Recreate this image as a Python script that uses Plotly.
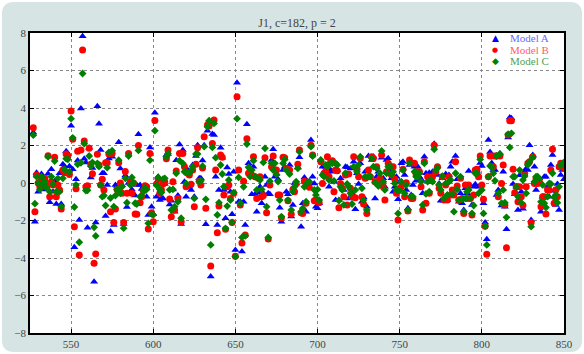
import plotly.graph_objects as go

x_vals = list(range(527, 851))

model_a = [
    2.7, -2.06, 0.55,
    -0.46, 0.35, 0.48, -0.35, 0.16, -0.1, 0.5, -1.03, 0.73, -0.46,
    0.1, -1.12, -0.37, 0.52, -1.12, 1.0, 0.9, 1.7, 1.58, 0.9,
    3.05, 0.73, -3.43, 0.2, 1.2, -1.97, 3.98, 7.83, 1.3, 1.1,
    -2.38, 1.88, 0.3, 0.8, -5.26, -2.1, 4.1, 3.16, 1.76, 0.52,
    0.52, -1.76, -0.1, 1.31, -2.58, 1.4, -2.24, -0.1, -0.16, 2.18,
    0.78, -0.1, -2.18, 0.4, -1.28, 0.0, 0.07, -0.34, -0.02, -0.67,
    -0.1, 2.6, -0.1, -0.32, -0.2, -0.2, -0.73, -1.7, 1.9, -1.26,
    -1.65, 3.75, -0.73, 0.34, -0.91, -0.82, -0.82, -0.05, 1.5, 1.55,
    -1.14, -0.94, -0.34, -1.53, 1.22, -0.67, 2.06, -2.19, 1.76, 0.07,
    -0.73, 0.69, -0.2, -0.37, 0.96, -0.73, 1.44, 2.02, 0.25, 0.25,
    1.2, 2.02, -2.2, 2.79, 3.32, -4.99, 2.61, 2.56, 0.34, -2.24,
    -0.37, 1.88, 1.35, -0.37, -1.88, 0.83, 0.48, -0.46, -1.67, 0.6,
    -3.57, 5.35, -1.0, -1.0, -3.65, -1.0, -2.24, 3.14, 1.05, 0.84,
    -0.6, 0.87, -0.6, -1.53, -0.52, -0.2, -1.08, -0.55, 0.34, -0.1,
    -0.55, -0.6, 1.23, 1.8, 0.34, 0.48, 0.2, -1.32, -2.06, 0.69,
    0.87, -0.46, -0.6, 0.96, -1.79, -1.17, 0.0, -0.02, 0.83, 1.37,
    -2.33, -1.08, 0.3, -1.53, 0.02, 0.07, 2.29, 0.34, -0.02, -1.26,
    -1.35, -1.08, 1.23, 0.87, 0.6, 0.87, 0.6, -0.2, 0.69, 0.6,
    0.07, -0.91, 0.69, -0.91, 0.25, -0.2, -0.37, 0.87, 0.84, -0.82,
    0.78, -0.55, 1.14, -1.4, 0.52, -0.05, 1.05, -1.0, -0.76, 0.6,
    -1.26, 1.44, 0.25, 1.23, 1.4, -0.82, 0.34, 0.6, 0.07, 1.35,
    0.25, -0.2, 1.23, 1.32, 0.69, 0.25, -0.46, -0.2, 0.34, -0.87,
    0.07, 1.05, 1.14, 0.43, -0.37, -1.35, 0.96, -0.64, -0.1, 0.87,
    0.12, 0.87, 0.34, 0.2, -0.55, 1.4, 0.52, 0.07, 0.55, 0.07,
    0.6, 2.1, 0.52, 0.43, -0.02, -0.94, 0.25, -0.94, 0.48, -0.91,
    0.43, 0.87, 1.14, -0.55, 1.44, 0.2, -1.0, -0.55, -1.08, -1.44,
    -0.28, -0.55, 0.64, -0.73, -1.17, -0.2, -0.07, 0.66, -0.2, 1.07,
    0.91, -1.08, -2.1, -3.0, 2.29, 1.66, 1.07, 0.69, 0.69, -0.64,
    -0.37, 1.58, -1.2, 0.6, -1.26, -2.47, 2.43, 3.5, 3.45, -0.05,
    -0.6, -0.2, -1.44, 0.41, -0.46, -1.37, 0.6, 0.78, 0.69, 2.02,
    -1.97, 1.49, 0.87, -0.37, 0.16, 0.25, -1.53, -0.73, 0.34, 0.34,
    -0.2, -0.73, 0.96, 1.49, -0.41, -1.17, -0.05, -1.44, 0.43, 0.69,
    0.2,
]

model_b = [
    2.95, -1.53, 0.43,
    0.0, -0.2, 0.25, -0.05, 0.25, -0.2, 1.46, -0.73, 0.07, -0.1,
    1.37, -0.73, -0.1, -0.37, -1.39, 0.7, 0.55, 1.55, 1.44, 0.45,
    3.84, 2.33, -2.33, -0.3, 1.7, -3.84, 1.76, 7.09, 2.24, -0.2,
    -0.14, 1.85, 1.0, 0.5, -4.28, -3.78, 1.53, 0.96, -0.1, 0.2,
    -0.37, 1.08, 1.08, 1.55, -1.53, 1.58, -2.11, -1.39, -0.34, 1.08,
    0.0, -0.55, -2.11, 0.62, -0.55, 1.58, 0.07, -0.55, 0.0, -1.65,
    -1.67, 2.0, -1.05, -0.73, -0.41, -0.14, -0.2, -2.45, 1.58, -1.58,
    -2.06, 3.34, -0.05, 0.2, -0.55, -0.37, -0.05, 0.07, 1.3, 1.76,
    -0.85, -1.8, 0.07, -1.44, 0.64, -0.82, 1.58, -2.06, 1.58, 0.87,
    -0.2, 0.52, 0.43, -0.07, 0.69, -1.26, 1.0, 1.88, 0.1, -0.1,
    0.8, 2.47, -1.35, 3.09, 3.04, -4.42, 2.11, 3.36, 0.7, -2.65,
    -1.22, 1.49, 1.37, -0.64, -2.47, -0.2, -0.1, -0.82, -2.11, -0.55,
    -3.9, 4.6, 0.7, -1.17, -3.2, 0.1, -2.77, 2.36, 0.52, 0.66,
    0.43, 1.4, 0.34, -0.82, 0.25, 0.34, -0.73, -0.67, 1.35, -1.58,
    -2.98, -0.1, 0.87, 1.44, 0.69, 0.69, -0.64, -0.64, -1.85, 1.37,
    1.35, 0.78, -0.94, 0.69, -1.67, -0.34, -0.46, -0.02, 1.0, 1.76,
    -1.58, -1.62, 0.1, -1.08, -0.02, -0.23, 2.02, 1.49, -0.94, -0.91,
    -1.0, -1.05, 1.14, -0.02, 0.52, 0.6, 1.4, 0.34, 1.14, 1.19,
    -0.46, 0.69, 0.66, -1.32, -0.02, -0.28, -0.73, 0.43, -1.17, 0.48,
    -0.28, -0.73, 1.4, -0.78, 0.73, 0.34, 1.32, -0.73, -1.12, 0.25,
    -1.62, 0.69, 0.34, 1.4, 1.32, 0.07, 0.87, 0.07, 0.25, 1.49,
    -0.2, -0.91, 0.6, 1.05, 0.91, 0.43, 0.87, 0.2, -0.55, -1.97,
    -0.28, -0.2, 0.73, -0.73, 0.02, -1.49, 1.23, -0.82, -0.82, 1.05,
    0.46, 0.6, 0.6, -0.2, -1.44, 1.14, -1.08, 0.34, -0.55, 0.25,
    0.34, 2.02, 0.6, 0.87, -0.28, -0.55, 0.34, -0.91, -0.1, -0.91,
    0.34, -0.64, -0.37, -0.64, 1.14, -0.16, -0.91, 0.25, -0.82, -1.62,
    -0.1, -0.82, -0.1, -0.82, -1.71, -0.64, 0.69, 0.73, 0.34, 1.44,
    -0.1, -0.87, -2.3, -3.8, 0.34, 1.44, 1.44, 0.87, 1.44, 1.44,
    -0.73, 1.44, -0.02, 0.96, -1.17, -3.45, 2.56, 3.32, 3.32, 0.73,
    -0.52, -0.2, -1.0, -0.2, -0.73, -1.19, 0.43, -0.2, 1.05, 1.14,
    -2.11, 1.4, -0.02, 0.25, -0.02, 0.07, -1.26, -0.73, -0.73, -1.65,
    -0.37, -0.37, 0.69, 1.8, -1.08, -0.37, -0.73, 0.87, 1.05, 1.0,
    0.8,
]

model_c = [
    2.55, -1.1, 0.34,
    0.0, -0.34, 0.34, -0.05, 0.07, -0.23, 1.4, -0.46, 0.34, -0.05,
    1.17, -0.46, 0.25, -0.46, -1.26, 0.25, 0.73, 1.3, 1.26, 0.6,
    3.43, 2.41, -1.28, -0.1, 1.0, -3.16, 1.08, 5.84, 2.1, -0.4,
    -0.39, 1.44, 0.9, 1.1, -2.36, -2.82, 1.05, 0.87, -0.1, -0.73,
    -0.67, -1.2, 0.82, 1.63, -0.8, 1.72, -1.26, -0.67, -0.34, 1.22,
    -0.55, -0.2, -2.41, 0.25, -1.05, 1.44, -0.1, 0.3, 0.0, -1.08,
    -1.12, 1.74, -0.73, -0.67, -0.43, -0.25, -0.34, -2.15, 1.22, -1.65,
    -1.7, 2.79, -0.12, 0.3, -0.34, -0.5, 0.21, 0.25, 1.4, 1.58,
    -0.36, -1.44, -0.34, -1.26, 0.52, -1.0, 1.19, -1.88, 1.05, 0.6,
    -0.02, 0.55, 0.52, 0.66, 0.87, -0.82, 1.55, 1.55, 0.07, 0.12,
    0.9, 1.94, -0.87, 3.0, 3.32, -3.3, 1.9, 3.18, 1.35, -1.7,
    -1.05, 0.96, 0.48, -0.2, -2.42, -1.23, 0.16, -0.91, -2.1, -0.52,
    -3.93, 3.43, 0.3, -1.08, -2.9, -0.2, -2.82, 2.08, 0.84, 0.34,
    0.69, 1.19, 0.34, -0.37, 0.25, 0.16, -0.34, 1.1, 1.85, -1.26,
    -2.9, 0.1, 1.05, 0.69, 1.05, 0.46, 0.07, -0.91, -1.8, 1.05,
    1.26, 0.69, -0.91, 0.48, -1.44, -0.46, -0.2, 0.07, 0.78, 1.67,
    -1.53, -1.35, -0.2, -1.0, 0.02, 0.07, 1.94, 1.44, -0.37, -0.64,
    -0.34, -0.91, 1.23, 0.43, 0.34, 0.96, 0.87, 0.16, 1.08, 1.05,
    0.11, 1.05, 0.96, -0.94, -0.2, -0.37, -1.17, 0.52, -0.05, -0.2,
    -0.55, -1.12, 0.87, -0.37, 0.6, 0.96, 1.4, -0.28, -0.91, 0.34,
    -1.44, 0.34, 0.37, 1.32, 0.87, 0.02, 0.78, -0.16, 0.52, 1.71,
    0.07, -0.37, 0.52, 0.87, 0.91, 0.43, 0.6, -0.02, -0.37, -1.62,
    -0.41, 0.07, 0.69, -0.55, -0.1, -1.44, 1.05, -0.73, -0.73, 0.6,
    0.34, 0.34, 0.52, 0.07, -1.17, 1.05, -0.58, 0.07, -0.46, 0.16,
    0.07, 1.8, 0.69, 0.82, -0.1, -0.37, 0.37, -0.82, -0.02, -0.64,
    0.07, 0.16, -0.6, -1.53, 0.52, -0.34, -0.91, 0.34, -0.87, -1.53,
    -0.82, -0.46, -0.37, -0.82, -1.62, -1.2, 0.52, 0.52, -0.55, 1.26,
    -0.37, -1.62, -2.3, -3.3, 0.34, 0.91, 0.84, 0.52, 0.12, 1.44,
    -0.55, 1.55, -1.08, -0.37, -1.05, -1.83, 2.6, 1.9, 2.65, 0.34,
    0.34, -0.2, -0.73, 0.69, -1.05, 0.16, 0.37, -0.55, 0.96, 1.14,
    -2.33, 1.37, 0.07, 0.34, 0.34, 0.21, -1.0, -0.1, -1.08, -1.3,
    -0.73, -0.02, -0.05, 0.52, -0.76, -0.64, -1.05, -0.2, 0.96, 1.05,
    1.1,
]

series_names = ["Model A", "Model B", "Model C"]
title_text = "J1, c=182, p = 2"
x_ticks = [550, 600, 650, 700, 750, 800, 850]
y_ticks = [-8, -6, -4, -2, 0, 2, 4, 6, 8]

W, H = 584, 354
L, R, T, B = 30, 20, 33, 21
pw, ph = W - L - R, H - T - B

def px2paper(px, py):
    return (px - L) / pw, (H - B - py) / ph

fig = go.Figure()
styles = [
    (model_a, "#0000ff", "triangle-up", 7, "#6a6aff", "▲"),
    (model_b, "#ff0000", "circle", 7, "#ff6262", "●"),
    (model_c, "#007f00", "diamond", 6, "#4fa04f", "◆"),
]
for (vals, col, sym, sz, lcol, glyph), name in zip(styles, series_names):
    fig.add_trace(go.Scatter(
        x=x_vals, y=vals, mode="markers", name=name, showlegend=False,
        marker=dict(color=col, symbol=sym, size=sz, line=dict(width=0)),
    ))

# rounded panel background
x0, y0 = px2paper(2, 352)
x1, y1 = px2paper(582, 2)
rx, ry = 12 / pw, 12 / ph
path = (f"M {x0+rx},{y0} L {x1-rx},{y0} Q {x1},{y0} {x1},{y0+ry} "
        f"L {x1},{y1-ry} Q {x1},{y1} {x1-rx},{y1} L {x0+rx},{y1} "
        f"Q {x0},{y1} {x0},{y1-ry} L {x0},{y0+ry} Q {x0},{y0} {x0+rx},{y0} Z")
fig.add_shape(type="path", path=path, xref="paper", yref="paper",
              fillcolor="#d6e4e4", line=dict(width=0), layer="below")
fig.add_shape(type="rect", x0=0, y0=0, x1=1, y1=1, xref="paper", yref="paper",
              fillcolor="white", line=dict(width=0), layer="below")
# legend box
lx0, ly0 = px2paper(488, 68)
lx1, ly1 = px2paper(563, 34)
fig.add_shape(type="rect", x0=lx0, y0=ly0, x1=lx1, y1=ly1, xref="paper", yref="paper",
              fillcolor="white", line=dict(width=0), layer="above")

# legend entries as text
row_y = [38.5, 50, 61.5]
for (vals, col, sym, sz, lcol, glyph), name, ry_ in zip(styles, series_names, row_y):
    gx, gy = px2paper(495, ry_)
    tx, _ = px2paper(508, ry_)
    fig.add_annotation(x=gx, y=gy, xref="paper", yref="paper", text=glyph,
                       showarrow=False, xanchor="center", yanchor="middle",
                       font=dict(family="DejaVu Sans", size=9 if glyph != "●" else 7, color=col))
    fig.add_annotation(x=tx, y=gy, xref="paper", yref="paper", text=name,
                       showarrow=False, xanchor="left", yanchor="middle",
                       font=dict(family="Liberation Serif, serif", size=11, color=lcol))

axis_common = dict(
    showline=True, linecolor="black", linewidth=1.5, mirror="ticks",
    ticks="inside", ticklen=4, tickcolor="black",
    showgrid=True, gridcolor="#888888", griddash="dot", gridwidth=1,
    zeroline=False, automargin=False,
    tickfont=dict(family="Liberation Serif, serif", size=11, color="#444444"),
)
fig.update_xaxes(range=[525, 850], tickvals=x_ticks, **axis_common)
fig.update_yaxes(range=[-8, 8], tickvals=y_ticks, **axis_common)

fig.update_layout(
    width=W, height=H,
    margin=dict(l=L, r=R, t=T, b=B, autoexpand=False),
    paper_bgcolor="white", plot_bgcolor="white",
    title=dict(text=title_text, x=(L + pw / 2) / W, xanchor="center",
               y=1 - 23 / H, yanchor="middle", automargin=False,
               font=dict(family="Liberation Serif, serif", size=12, color="#444444")),
    showlegend=False,
)

fig.write_html("out.html", config={"displayModeBar": False},
               post_script="document.body.style.margin='0';")
